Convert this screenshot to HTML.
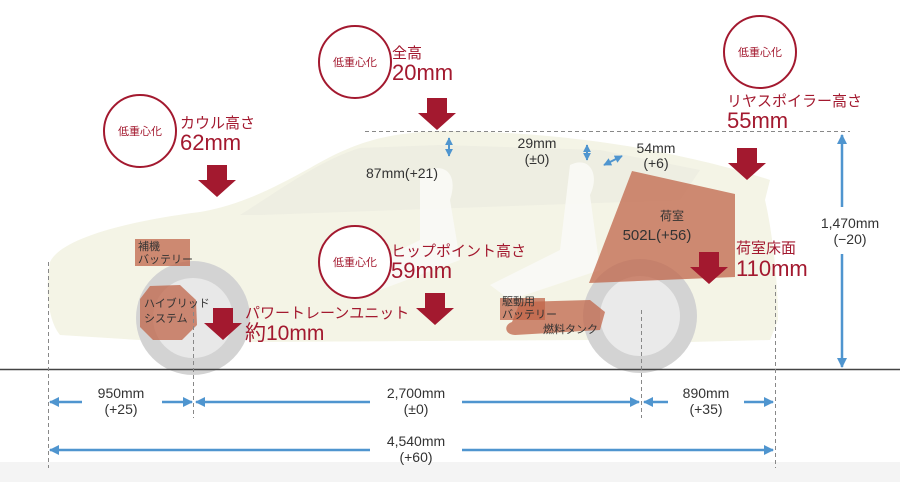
<!DOCTYPE html>
<html><head><meta charset="utf-8"><style>
html,body{margin:0;padding:0;background:#fff;}
svg{display:block;}
text{font-family:"Liberation Sans","Noto Sans CJK JP",sans-serif;}
.r{fill:#a3192f;}
.k{fill:#333;}
</style></head><body>
<svg width="900" height="482" viewBox="0 0 900 482" xmlns="http://www.w3.org/2000/svg">
<defs>
<marker id="ah" viewBox="0 0 10 10" refX="9" refY="5" markerWidth="4" markerHeight="4" orient="auto-start-reverse"><path d="M0,0L10,5L0,10z" fill="#4f95cf"/></marker>
<g id="da"><path d="M-10,0h20v15h9l-19,17l-19,-17h9z" fill="#a3192f"/></g>
</defs>
<rect x="0" y="462" width="900" height="20" fill="#f4f4f4"/>
<path d="M50,262 C60,240 120,222 200,212 C240,205 270,190 310,168 C350,145 380,133 440,131 C520,131 600,140 660,152 C700,160 740,170 770,180 L765,200 C772,230 778,280 778,320 L770,340 L690,342 C680,300 600,290 590,340 L250,342 C245,300 150,290 140,340 L60,335 C48,320 45,290 50,262Z" fill="#f4f4e6"/>
<path d="M240,215 C280,190 320,160 360,148 L440,145 L600,150 L700,170 L680,200 L260,215Z" fill="#ebebe0" opacity=".7"/>
<circle cx="193" cy="318" r="57" fill="#d3d3d3"/><circle cx="193" cy="318" r="40" fill="#e8e8e8"/>
<circle cx="640" cy="316" r="57" fill="#d3d3d3"/><circle cx="640" cy="316" r="40" fill="#eaeaea"/>
<path d="M420,175 C440,160 460,170 450,200 L460,260 L380,290 L360,270 L420,240Z" fill="#fafaf6" opacity=".9"/>
<path d="M570,165 C590,155 600,175 590,195 L600,270 L510,300 L490,285 L560,250Z" fill="#fafaf6" opacity=".9"/>
<path d="M632,171 L735,194 L735,277 L589,283Z" fill="#c0664a" opacity=".75"/>
<rect x="135" y="239" width="55" height="27" fill="#c0664a" opacity=".75"/>
<path d="M150,286 L180,285 L196,300 L197,325 L182,340 L153,340 L140,327 L140,299Z" fill="#c0664a" opacity=".75"/>
<rect x="500" y="298" width="45" height="22" fill="#c0664a" opacity=".75"/>
<path d="M520,302 L590,300 L605,312 L600,330 L515,335 C505,335 503,325 512,322Z" fill="#c0664a" opacity=".75"/>
<line x1="0" y1="369.5" x2="900" y2="369.5" stroke="#444" stroke-width="1.5"/>
<g stroke="#888" stroke-dasharray="4,3" stroke-width="1">
<line x1="48.5" y1="262" x2="48.5" y2="468"/>
<line x1="193.5" y1="305" x2="193.5" y2="418"/>
<line x1="641.5" y1="310" x2="641.5" y2="418"/>
<line x1="775.5" y1="285" x2="775.5" y2="468"/>
<line x1="365" y1="131.5" x2="850" y2="131.5"/>
</g>
<g stroke="#4f95cf" stroke-width="2.5" marker-start="url(#ah)" marker-end="url(#ah)" fill="none">
<line x1="50" y1="402" x2="82" y2="402" marker-end="none"/>
<line x1="162" y1="402" x2="192" y2="402" marker-start="none"/>
<line x1="196" y1="402" x2="370" y2="402" marker-end="none"/>
<line x1="462" y1="402" x2="639" y2="402" marker-start="none"/>
<line x1="644" y1="402" x2="668" y2="402" marker-end="none"/>
<line x1="744" y1="402" x2="773" y2="402" marker-start="none"/>
<line x1="50" y1="450" x2="370" y2="450" marker-end="none"/>
<line x1="462" y1="450" x2="773" y2="450" marker-start="none"/>
<line x1="842" y1="135" x2="842" y2="207" marker-end="none"/>
<line x1="842" y1="254" x2="842" y2="367" marker-start="none"/>
<line x1="449" y1="138" x2="449" y2="156" stroke-width="2"/>
<line x1="587" y1="145" x2="587" y2="160" stroke-width="2"/>
<line x1="604" y1="165" x2="622" y2="156" stroke-width="2"/>
</g>
<g class="k" font-size="14" text-anchor="middle">
<text x="121" y="398">950mm</text><text x="121" y="414">(+25)</text>
<text x="416" y="398">2,700mm</text><text x="416" y="414">(±0)</text>
<text x="706" y="398">890mm</text><text x="706" y="414">(+35)</text>
<text x="416" y="446">4,540mm</text><text x="416" y="462">(+60)</text>
<text x="850" y="228">1,470mm</text><text x="850" y="244">(−20)</text>
<text x="537" y="148">29mm</text><text x="537" y="164">(±0)</text>
<text x="656" y="153">54mm</text><text x="656" y="168">(+6)</text>
<text x="402" y="178">87mm(+21)</text>
<text x="672" y="220" font-size="12">荷室</text>
<text x="657" y="240" font-size="15">502L(+56)</text>
</g>
<g class="k" font-size="11">
<text x="138" y="250">補機</text><text x="138" y="263">バッテリー</text>
<text x="144" y="307">ハイブリッド</text><text x="144" y="322">システム</text>
<text x="502" y="305">駆動用</text><text x="502" y="318">バッテリー</text>
<text x="543" y="333">燃料タンク</text>
</g>
<g fill="#fff" stroke="#a3192f" stroke-width="2">
<circle cx="140" cy="131" r="36"/><circle cx="355" cy="62" r="36"/><circle cx="760" cy="52" r="36"/><circle cx="355" cy="262" r="36"/>
</g>
<g class="r" font-size="11" text-anchor="middle">
<text x="140" y="135">低重心化</text><text x="355" y="66">低重心化</text><text x="760" y="56">低重心化</text><text x="355" y="266">低重心化</text>
</g>
<g class="r">
<text x="180" y="128" font-size="15">カウル高さ</text><text x="180" y="150" font-size="22">62mm</text>
<text x="392" y="58" font-size="15">全高</text><text x="392" y="80" font-size="22">20mm</text>
<text x="727" y="106" font-size="15">リヤスポイラー高さ</text><text x="727" y="128" font-size="22">55mm</text>
<text x="391" y="256" font-size="15">ヒップポイント高さ</text><text x="391" y="278" font-size="22">59mm</text>
<text x="245" y="318" font-size="15">パワートレーンユニット</text><text x="245" y="340" font-size="21">約10mm</text>
<text x="736" y="253" font-size="15">荷室床面</text><text x="736" y="276" font-size="22">110mm</text>
</g>
<use href="#da" x="217" y="165"/>
<use href="#da" x="437" y="98"/>
<use href="#da" x="747" y="148"/>
<use href="#da" x="435" y="293"/>
<use href="#da" x="223" y="308"/>
<use href="#da" x="709" y="252"/>
</svg>
</body></html>
